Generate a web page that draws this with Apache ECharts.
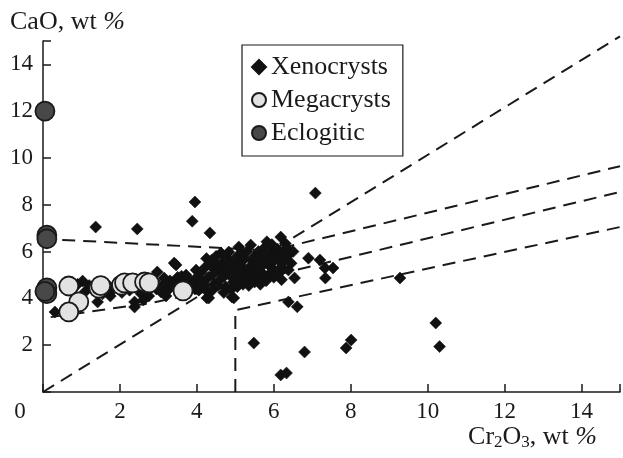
<!DOCTYPE html>
<html>
<head>
<meta charset="utf-8">
<style>
  html, body { margin: 0; padding: 0; background: #fff; }
  #chart { width: 623px; height: 458px; }
</style>
<script src="https://cdn.jsdelivr.net/npm/echarts@6/dist/echarts.min.js"></script>
</head>
<body>
<div id="chart"></div>
<script>
// Cr2O3 vs CaO (wt %) in garnets
const seriesNames = ['Xenocrysts', 'Megacrysts', 'Eclogitic'];

const xenocrysts = [
  [0.31, 3.42], [0.6, 4.5], [0.75, 4.4], [0.9, 4.6], [1.03, 4.74], [1.1, 4.3], [1.2, 4.55], [1.3, 4.45],
  [1.42, 3.85], [1.5, 4.7], [1.55, 4.2], [1.6, 4.4], [1.7, 4.55], [1.75, 4.1], [1.81, 4.36], [1.9, 4.6],
  [2.0, 4.45], [2.05, 4.25], [2.1, 4.7], [2.2, 4.5], [2.25, 4.35], [2.38, 3.85], [2.38, 3.63], [2.5, 4.55],
  [2.55, 4.2], [2.61, 3.93], [2.7, 4.6], [2.75, 4.1], [2.8, 4.45], [2.9, 4.75], [2.95, 4.4], [2.97, 5.13],
  [3.07, 4.27], [3.1, 4.55], [3.15, 4.87], [3.2, 4.6], [3.2, 4.1], [3.25, 4.35], [3.3, 4.75], [3.4, 4.6],
  [3.41, 5.51], [3.46, 5.43], [3.5, 4.9], [3.55, 4.45], [3.6, 4.7], [3.6, 4.95], [3.7, 4.3], [3.72, 5.0],
  [3.8, 4.8], [3.85, 4.5], [3.9, 4.6], [3.95, 4.4], [3.98, 5.21], [4.0, 4.9], [4.05, 4.35], [4.1, 5.1],
  [4.1, 4.7], [4.15, 4.7], [4.2, 5.3], [4.2, 4.55], [4.25, 5.7], [4.26, 4.02], [4.31, 4.02], [4.3, 4.9],
  [4.3, 4.25], [4.35, 5.5], [4.39, 5.64], [4.4, 5.0], [4.4, 4.35], [4.45, 4.6], [4.45, 5.25], [4.5, 5.2],
  [4.5, 5.8], [4.55, 5.4], [4.55, 4.55], [4.6, 4.8], [4.6, 5.3], [4.63, 5.94], [4.65, 5.1], [4.7, 5.6],
  [4.7, 4.25], [4.7, 4.95], [4.75, 4.5], [4.8, 5.3], [4.8, 5.7], [4.83, 5.98], [4.85, 5.0], [4.9, 5.5],
  [4.9, 4.4], [4.91, 4.06], [4.95, 4.7], [4.96, 4.02], [5.0, 5.2], [5.0, 5.5], [5.05, 5.8], [5.05, 4.5],
  [5.09, 6.2], [5.1, 4.9], [5.1, 5.65], [5.15, 5.4], [5.2, 5.1], [5.2, 4.6], [5.2, 5.9], [5.25, 5.7],
  [5.3, 4.8], [5.3, 6.0], [5.3, 5.05], [5.35, 5.3], [5.35, 4.55], [5.4, 6.28], [5.4, 5.0], [5.45, 5.6],
  [5.5, 5.2], [5.5, 4.7], [5.5, 5.8], [5.55, 4.9], [5.6, 6.0], [5.6, 5.5], [5.61, 5.13], [5.65, 5.8],
  [5.65, 4.6], [5.7, 5.4], [5.75, 5.0], [5.75, 6.15], [5.79, 4.91], [5.8, 4.75], [5.8, 5.7], [5.82, 6.42],
  [5.87, 5.43], [5.9, 5.9], [5.94, 5.13], [5.95, 6.3], [5.95, 5.3], [6.0, 5.6], [6.0, 4.9], [6.0, 6.0],
  [6.05, 5.0], [6.1, 6.1], [6.1, 5.8], [6.12, 5.64], [6.15, 5.1], [6.18, 6.62], [6.2, 5.34], [6.2, 4.8],
  [6.25, 5.9], [6.3, 5.64], [6.3, 6.35], [6.33, 6.15], [6.38, 5.21], [6.4, 5.9], [6.45, 5.5], [6.5, 6.0],
  [6.54, 4.87], [6.38, 3.85], [6.61, 3.64], [6.9, 5.72], [7.2, 5.64], [7.33, 5.3], [7.54, 5.3], [7.34, 4.87],
  [4.34, 6.8], [1.37, 7.05], [2.45, 6.97], [3.95, 8.12], [3.88, 7.3], [7.08, 8.5], [9.28, 4.87],
  [5.48, 2.09], [6.18, 0.73], [6.33, 0.81], [6.8, 1.71], [7.88, 1.88], [8.01, 2.22], [10.21, 2.95], [10.31, 1.94]
];

const megacrysts = [
  [0.67, 4.53], [0.93, 3.85], [0.67, 3.42], [1.45, 4.44], [1.5, 4.55], [2.04, 4.57],
  [2.12, 4.66], [2.33, 4.66], [2.64, 4.7], [2.76, 4.66], [3.64, 4.32]
];

const eclogitic = [
  [0.05, 12.0], [0.1, 6.7], [0.1, 6.55], [0.1, 4.45], [0.1, 4.2], [0.05, 4.3]
];

// dashed field boundaries
const lineOneToOne = [[0, 0], [15, 15.2]];
const lineUpper = [[0.5, 6.5], [5.9, 6.05]];
const lineA = [[6.2, 6.15], [15, 9.65]];
const lineLower = [[0.2, 3.2], [2.8, 3.8], [4.4, 4.35], [15, 8.55]];
const lineC = [[5, 0], [5, 3.5], [15, 7.05]];

const xTicks = [0, 2, 4, 6, 8, 10, 12, 14];
const yTicks = [2, 4, 6, 8, 10, 12, 14];

const font = '"Liberation Serif", "Times New Roman", serif';
const ink = '#1a1a1a';

const chart = echarts.init(document.getElementById('chart'), null, { renderer: 'canvas' });

const dashSeries = (data, clip) => ({
  type: 'line',
  data: data,
  symbol: 'none',
  silent: true,
  clip: clip,
  z: 1,
  lineStyle: { color: ink, width: 2, type: [13, 8] },
});

const option = {
  animation: false,
  backgroundColor: '#fff',
  textStyle: { fontFamily: font, color: ink },
  grid: { left: 43, right: 0, top: 41, bottom: 66 },
  legend: {
    data: seriesNames.map((n, i) => ({ name: n, icon: i === 0 ? 'diamond' : 'circle' })),
    orient: 'vertical',
    left: 242,
    top: 45,
    itemWidth: 14,
    itemHeight: 14,
    itemGap: 7,
    padding: [9, 12, 10, 9],
    borderColor: ink,
    borderWidth: 1.2,
    textStyle: { fontFamily: font, fontSize: 26, color: ink },
  },
  xAxis: {
    type: 'value',
    min: 0,
    max: 15,
    interval: 2,
    axisLine: { lineStyle: { color: ink, width: 1.5 } },
    axisTick: { inside: true, length: 8, lineStyle: { color: ink, width: 1.5 } },
    splitLine: { show: false },
    axisLabel: {
      fontFamily: font,
      fontSize: 23,
      color: ink,
      margin: 8,
      formatter: v => (xTicks.includes(v) ? (v === 0 ? '{o|0}' : String(v)) : ''),
      rich: { o: { fontFamily: font, fontSize: 23, color: ink, padding: [0, 46, 0, 0] } },
    },
  },
  yAxis: {
    type: 'value',
    min: 0,
    max: 15,
    interval: 2,
    axisLine: { lineStyle: { color: ink, width: 1.5 } },
    axisTick: { inside: true, length: 8, lineStyle: { color: ink, width: 1.5 } },
    splitLine: { show: false },
    axisLabel: {
      fontFamily: font,
      fontSize: 23,
      color: ink,
      margin: 10,
      formatter: v => (yTicks.includes(v) ? String(v) : ''),
    },
  },
  graphic: [
    {
      type: 'text',
      left: 10,
      top: 9,
      style: {
        text: 'CaO, wt {i|%}',
        font: '26px ' + font,
        fill: ink,
        rich: { i: { fontFamily: font, fontSize: 26, fontStyle: 'italic', fill: ink } },
      },
    },
    {
      type: 'text',
      right: 26,
      top: 424,
      style: {
        text: 'Cr{s|2}O{s|3}, wt {i|%}',
        font: '26px ' + font,
        fill: ink,
        rich: {
          s: { fontFamily: font, fontSize: 17, fill: ink, padding: [12, 0, 0, 0] },
          i: { fontFamily: font, fontSize: 26, fontStyle: 'italic', fill: ink },
        },
      },
    },
  ],
  series: [
    dashSeries(lineOneToOne, false),
    dashSeries(lineUpper, true),
    dashSeries(lineA, true),
    dashSeries(lineLower, true),
    dashSeries(lineC, true),
    {
      name: 'Xenocrysts',
      type: 'scatter',
      data: xenocrysts,
      symbol: 'diamond',
      symbolSize: 12,
      z: 3,
      itemStyle: { color: '#111', borderColor: '#111', borderWidth: 0.5, opacity: 1 },
    },
    {
      name: 'Megacrysts',
      type: 'scatter',
      data: megacrysts,
      symbol: 'circle',
      symbolSize: 19,
      z: 4,
      itemStyle: { color: '#e2e2e2', borderColor: ink, borderWidth: 1.8, opacity: 1 },
    },
    {
      name: 'Eclogitic',
      type: 'scatter',
      data: eclogitic,
      symbol: 'circle',
      symbolSize: 19,
      z: 5,
      clip: false,
      itemStyle: { color: '#484848', borderColor: ink, borderWidth: 1.8, opacity: 1 },
    },
  ],
};

chart.setOption(option);

window.addEventListener('resize', () => chart.resize());
</script>
</body>
</html>
